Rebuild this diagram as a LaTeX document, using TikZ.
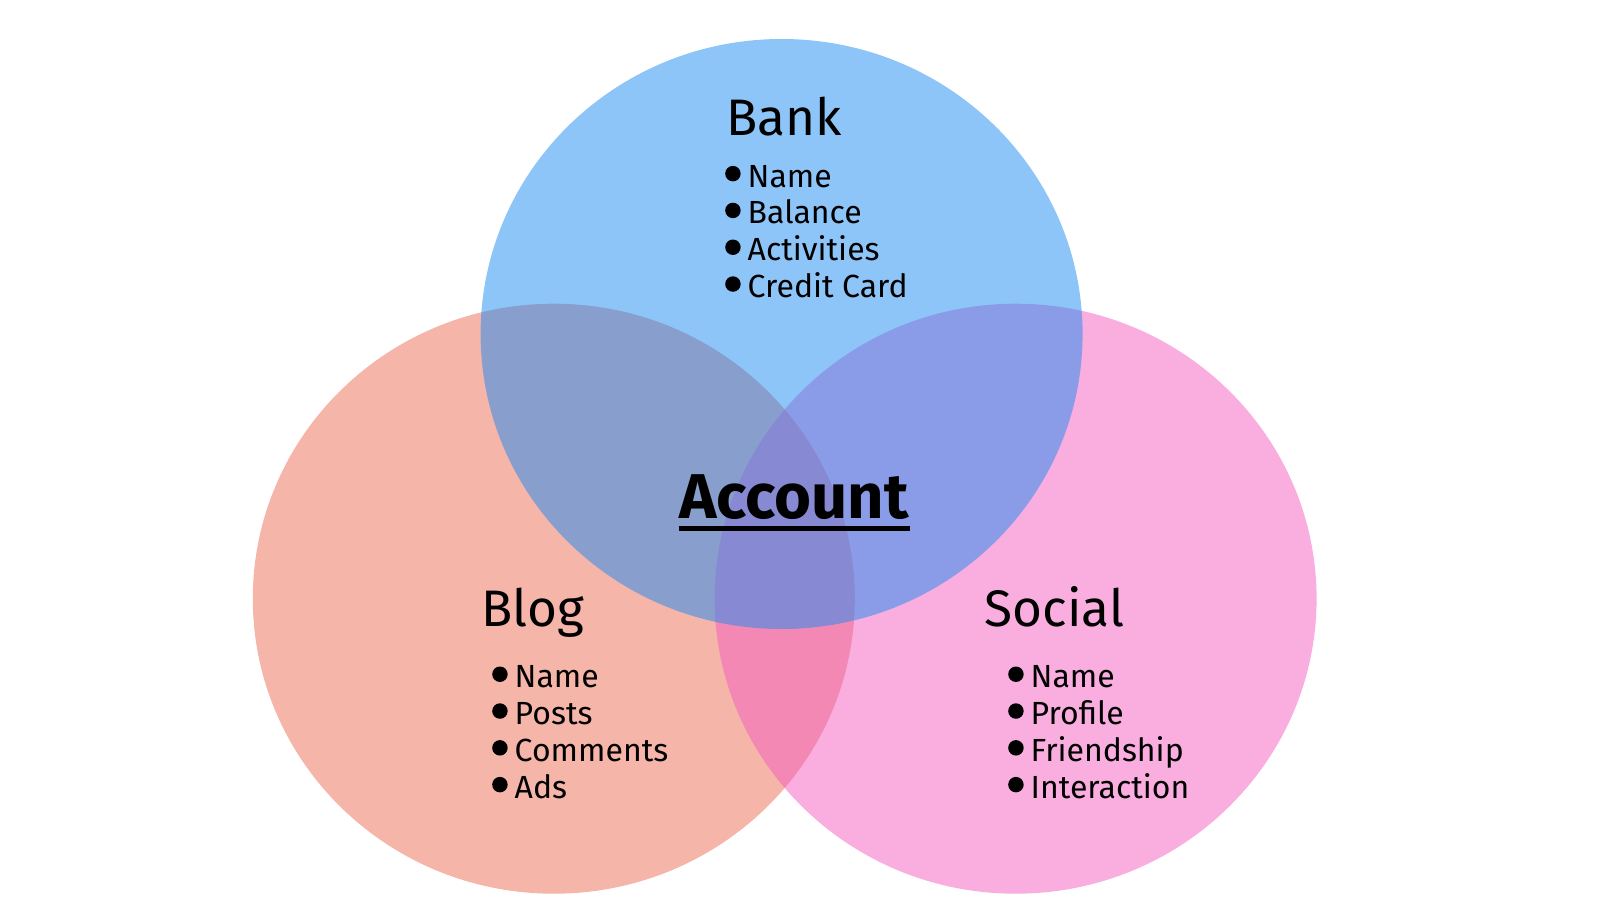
\documentclass[tikz,border=0pt]{standalone}
\usepackage{fontspec}
\setmainfont{Fira Sans}
\usetikzlibrary{positioning}
\definecolor{bankblue}{RGB}{29,139,243}
\definecolor{blogred}{RGB}{235,107,83}
\definecolor{socialpink}{RGB}{243,93,191}
\tikzset{
  set/.style={fill opacity=0.5},
  title/.style={anchor=base west, inner sep=0pt, font=\fontsize{14.6}{17}\selectfont},
  entry/.style={anchor=base west, inner sep=0pt, font=\fontsize{9.1}{11}\selectfont},
  dot/.style={fill=black},
}

\begin{document}
\begin{tikzpicture}[x=0.01cm,y=0.01cm]
  \useasboundingbox (0,0) rectangle (1602,914);
  % the three sets
  \fill[blogred,set] (553.8,315.3) ellipse [x radius=301, y radius=295];
  \fill[socialpink,set] (1015.6,315.3) ellipse [x radius=301, y radius=295];
  \fill[bankblue,set] (781.6,580) ellipse [x radius=301, y radius=295];
  % titles
  \node[title] (bank) at (726,778) {Bank};
  \node[title] (blog) at (481,288) {Blog};
  \node[title] (social) at (984,288) {Social};
  \node[anchor=base, inner sep=0pt, font=\fontsize{18}{21}\selectfont\bfseries] (account) at (794,396) {Account};
  \draw[line width=1.4pt] ([yshift=-2.9pt]account.base west) -- ([yshift=-2.9pt]account.base east);
  % lists
  \foreach \t [count=\i] in {Name,Balance,Activities,Credit Card} {
    \node[entry] (bank\i) at (747,727-36.8*\i+36.8) {\t};
    \fill[dot] ([xshift=-4pt,yshift=3.8pt]bank\i.base west) circle [radius=2.2pt];
  }
  \foreach \t [count=\i] in {Name,Posts,Comments,Ads} {
    \node[entry] (blog\i) at (514,226.4-36.8*\i+36.8) {\t};
    \fill[dot] ([xshift=-4pt,yshift=3.8pt]blog\i.base west) circle [radius=2.2pt];
  }
  \foreach \t [count=\i] in {Name,Profile,Friendship,Interaction} {
    \node[entry] (social\i) at (1030,226.4-36.8*\i+36.8) {\t};
    \fill[dot] ([xshift=-4pt,yshift=3.8pt]social\i.base west) circle [radius=2.2pt];
  }
\end{tikzpicture}
\end{document}
